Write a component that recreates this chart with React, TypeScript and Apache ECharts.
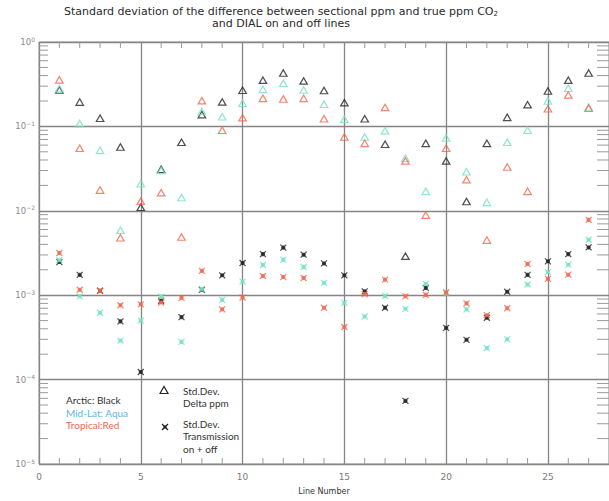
import React, { useEffect, useRef } from 'react';
import * as echarts from 'echarts';

const lineNumbers = [1, 2, 3, 4, 5, 6, 7, 8, 9, 10, 11, 12, 13, 14, 15, 16, 17, 18, 19, 20, 21, 22, 23, 24, 25, 26, 27];

const arcticDelta = [0.27, 0.194, 0.125, 0.057, 0.011, 0.031, 0.065, 0.138, 0.195, 0.268, 0.353, 0.43, 0.346, 0.266, 0.191, 0.123, 0.0615, 0.0029, 0.063, 0.039, 0.0129, 0.063, 0.128, 0.181, 0.263, 0.353, 0.43];
const midLatDelta = [0.28, 0.108, 0.052, 0.0059, 0.021, 0.03, 0.0144, 0.15, 0.13, 0.188, 0.275, 0.325, 0.27, 0.183, 0.121, 0.075, 0.089, 0.042, 0.017, 0.073, 0.029, 0.0126, 0.065, 0.09, 0.2, 0.283, 0.17];
const tropicalDelta = [0.356, 0.055, 0.0176, 0.0048, 0.013, 0.0164, 0.0049, 0.202, 0.09, 0.127, 0.215, 0.211, 0.215, 0.123, 0.075, 0.063, 0.168, 0.039, 0.0089, 0.055, 0.0234, 0.0045, 0.033, 0.017, 0.162, 0.236, 0.164];

const arcticTrans = [0.00247, 0.00174, 0.00113, 0.00049, 0.000123, 0.00086, 0.00055, 0.00116, 0.00172, 0.00241, 0.00307, 0.00366, 0.00302, 0.00238, 0.00172, 0.00111, 0.00071, 0.000056, 0.00122, 0.00041, 0.000296, 0.00054, 0.0011, 0.00174, 0.00252, 0.00307, 0.00368];
const midLatTrans = [0.0026, 0.00097, 0.00062, 0.00029, 0.0005, 0.00096, 0.00028, 0.00118, 0.00088, 0.00145, 0.00228, 0.00264, 0.00216, 0.0014, 0.00081, 0.00056, 0.00098, 0.00069, 0.00136, 0.00105, 0.00068, 0.000236, 0.0003, 0.00134, 0.00188, 0.0023, 0.00454];
const tropicalTrans = [0.00316, 0.00116, 0.00113, 0.00076, 0.00078, 0.00082, 0.00093, 0.00194, 0.00068, 0.00094, 0.00169, 0.00164, 0.0016, 0.00071, 0.00042, 0.00103, 0.00153, 0.00097, 0.00101, 0.00108, 0.0008, 0.00058, 0.0007, 0.00234, 0.00156, 0.00175, 0.0078];

const yDecades = [1e-5, 1e-4, 1e-3, 1e-2, 1e-1];
const yMinorMultipliers = [2, 3, 4, 5, 6, 7, 8, 9];
const xMinorTicks = [1, 2, 3, 4, 6, 7, 8, 9, 11, 12, 13, 14, 16, 17, 18, 19, 21, 22, 23, 24, 26, 27];

const X_MIN = 0;
const X_MAX = 28;
const Y_MIN = 1e-5;
const Y_MAX = 1;

const BLACK = '#222222';
const AQUA = '#72e2c4';
const RED = '#f0674c';
const TICK = '#9a9a9a';
const GRIDC = '#858585';

const STAR = 'path://M0,0L10,10M10,0L0,10M2.6,2.6L7.4,2.6L7.4,7.4L2.6,7.4Z';

export default function App() {
  const ref = useRef<HTMLDivElement>(null);

  useEffect(() => {
    if (!ref.current) return;
    const chart = echarts.init(ref.current, null, { renderer: 'svg' });

    const pair = (arr: number[]) => lineNumbers.map((x, i) => [x, arr[i]]);

    const triSeries = (name: string, arr: number[], color: string) => ({
      name,
      type: 'scatter',
      data: pair(arr),
      symbol: 'triangle',
      symbolSize: [7.5, 6.5],
      itemStyle: { color: 'rgba(255,255,255,0)', borderColor: color, borderWidth: 1.2 },
      silent: true,
      z: 3,
    });
    const starSeries = (name: string, arr: number[], color: string) => ({
      name,
      type: 'scatter',
      data: pair(arr),
      symbol: STAR,
      symbolSize: 6,
      itemStyle: { color: color, borderColor: color, borderWidth: 1.2 },
      silent: true,
      z: 3,
    });

    const yMinorValues: number[][] = [];
    yDecades.forEach((d) => yMinorMultipliers.forEach((m) => yMinorValues.push([X_MIN, d * m])));

    const option: any = {
      animation: false,
      backgroundColor: '#ffffff',
      textStyle: { fontFamily: 'DejaVu Sans' },
      grid: {
        left: 39,
        right: -6,
        top: 42,
        bottom: 37,
        show: true,
        borderColor: TICK,
        borderWidth: 1,
        backgroundColor: 'rgba(0,0,0,0)',
      },
      xAxis: {
        type: 'value',
        min: X_MIN,
        max: X_MAX,
        interval: 5,
        axisLine: { show: false },
        axisTick: { show: false },
        axisLabel: {
          showMaxLabel: false,
          margin: 8,
          fontSize: 9,
          color: '#7a7a7a',
          fontFamily: 'DejaVu Sans',
        },
        splitLine: { show: true, lineStyle: { color: GRIDC, width: 1.3 } },
        name: 'Line Number',
        nameLocation: 'middle',
        nameGap: 23,
        nameTextStyle: { fontSize: 8, color: '#333', fontFamily: 'DejaVu Sans' },
      },
      yAxis: {
        type: 'log',
        logBase: 10,
        min: Y_MIN,
        max: Y_MAX,
        axisLine: { show: false },
        axisTick: { show: false },
        splitLine: { show: true, lineStyle: { color: GRIDC, width: 1.3 } },
        axisLabel: {
          margin: 4,
          formatter: (v: number) => {
            const e = Math.round(Math.log10(v));
            const es = e < 0 ? '\u2212' + -e : String(e);
            return '{b|10}{s|' + es + '}';
          },
          rich: {
            b: { fontSize: 8.5, color: '#8a8a8a', lineHeight: 12, fontFamily: 'DejaVu Sans' },
            s: { fontSize: 6, color: '#8a8a8a', lineHeight: 6, verticalAlign: 'top', fontFamily: 'DejaVu Sans' },
          },
        },
      },
      graphic: [
        {
          type: 'text',
          x: 281,
          y: 5,
          silent: true,
          style: {
            text: 'Standard deviation of the difference between sectional ppm and true ppm CO{sub|2}\nand DIAL on and off lines',
            fontSize: 11,
            lineHeight: 12,
            fontFamily: 'DejaVu Sans',
            fill: '#2a2a2a',
            textAlign: 'center',
            textVerticalAlign: 'top',
            rich: {
              sub: { fontSize: 7, lineHeight: 8, verticalAlign: 'bottom', fill: '#2a2a2a', fontFamily: 'DejaVu Sans' },
            },
          },
        },
        { type: 'text', x: 66, y: 400, silent: true, style: { text: 'Arctic: Black', fontSize: 10, fontFamily: 'Lato', fill: '#333', textVerticalAlign: 'middle' } },
        { type: 'text', x: 66, y: 413, silent: true, style: { text: 'Mid-Lat: Aqua', fontSize: 10, fontFamily: 'Lato', fill: '#62b4e4', textVerticalAlign: 'middle' } },
        { type: 'text', x: 66, y: 425, silent: true, style: { text: 'Tropical:Red', fontSize: 10, fontFamily: 'Lato', fill: '#f0674c', textVerticalAlign: 'middle' } },
        {
          type: 'polygon',
          silent: true,
          shape: { points: [[160, 393.5], [164, 386.5], [168, 393.5]] },
          style: { fill: 'none', stroke: BLACK, lineWidth: 1.2 },
        },
        { type: 'text', x: 183, y: 391, silent: true, style: { text: 'Std.Dev.', fontSize: 10, fontFamily: 'Lato', fill: '#333', textVerticalAlign: 'middle' } },
        { type: 'text', x: 183, y: 403, silent: true, style: { text: 'Delta ppm', fontSize: 10, fontFamily: 'Lato', fill: '#333', textVerticalAlign: 'middle' } },
        {
          type: 'group',
          silent: true,
          x: 162,
          y: 424,
          children: [
            { type: 'line', shape: { x1: 0, y1: 0, x2: 6, y2: 6 }, style: { stroke: BLACK, lineWidth: 1.2 } },
            { type: 'line', shape: { x1: 6, y1: 0, x2: 0, y2: 6 }, style: { stroke: BLACK, lineWidth: 1.2 } },
            { type: 'rect', shape: { x: 1.5, y: 1.5, width: 3, height: 3 }, style: { fill: BLACK } },
          ],
        },
        { type: 'text', x: 183, y: 423.5, silent: true, style: { text: 'Std.Dev.', fontSize: 10, fontFamily: 'Lato', fill: '#333', textVerticalAlign: 'middle' } },
        { type: 'text', x: 183, y: 436, silent: true, style: { text: 'Transmission', fontSize: 10, fontFamily: 'Lato', fill: '#333', textVerticalAlign: 'middle' } },
        { type: 'text', x: 183, y: 449, silent: true, style: { text: 'on + off', fontSize: 10, fontFamily: 'Lato', fill: '#333', textVerticalAlign: 'middle' } },
      ],
      series: [
        {
          type: 'custom',
          silent: true,
          clip: false,
          z: 1,
          data: yMinorValues,
          renderItem: (_p: any, api: any) => {
            const v = api.value(1);
            const l = api.coord([X_MIN, v]);
            const r = api.coord([X_MAX, v]);
            return {
              type: 'group',
              children: [
                { type: 'line', shape: { x1: l[0], y1: l[1], x2: l[0] + 9, y2: l[1] }, style: { stroke: TICK, lineWidth: 1 } },
                { type: 'line', shape: { x1: r[0] - 12, y1: r[1], x2: r[0], y2: r[1] }, style: { stroke: TICK, lineWidth: 1 } },
              ],
            };
          },
        },
        {
          type: 'custom',
          silent: true,
          clip: false,
          z: 1,
          data: xMinorTicks.map((x) => [x, Y_MAX]),
          renderItem: (_p: any, api: any) => {
            const x = api.value(0);
            const b = api.coord([x, Y_MIN]);
            const t = api.coord([x, Y_MAX]);
            return {
              type: 'group',
              children: [
                { type: 'line', shape: { x1: b[0], y1: b[1], x2: b[0], y2: b[1] - 6 }, style: { stroke: TICK, lineWidth: 1 } },
                { type: 'line', shape: { x1: t[0], y1: t[1], x2: t[0], y2: t[1] + 6 }, style: { stroke: TICK, lineWidth: 1 } },
              ],
            };
          },
        },
        triSeries('Arctic Delta ppm', arcticDelta, BLACK),
        triSeries('Mid-Lat Delta ppm', midLatDelta, AQUA),
        triSeries('Tropical Delta ppm', tropicalDelta, RED),
        starSeries('Arctic Transmission', arcticTrans, BLACK),
        starSeries('Mid-Lat Transmission', midLatTrans, AQUA),
        starSeries('Tropical Transmission', tropicalTrans, RED),
      ],
    };

    chart.setOption(option);
    return () => chart.dispose();
  }, []);

  return (
    <div
      ref={ref}
      style={{ position: 'fixed', left: 0, top: 0, width: 609, height: 501, background: '#ffffff' }}
    />
  );
}
